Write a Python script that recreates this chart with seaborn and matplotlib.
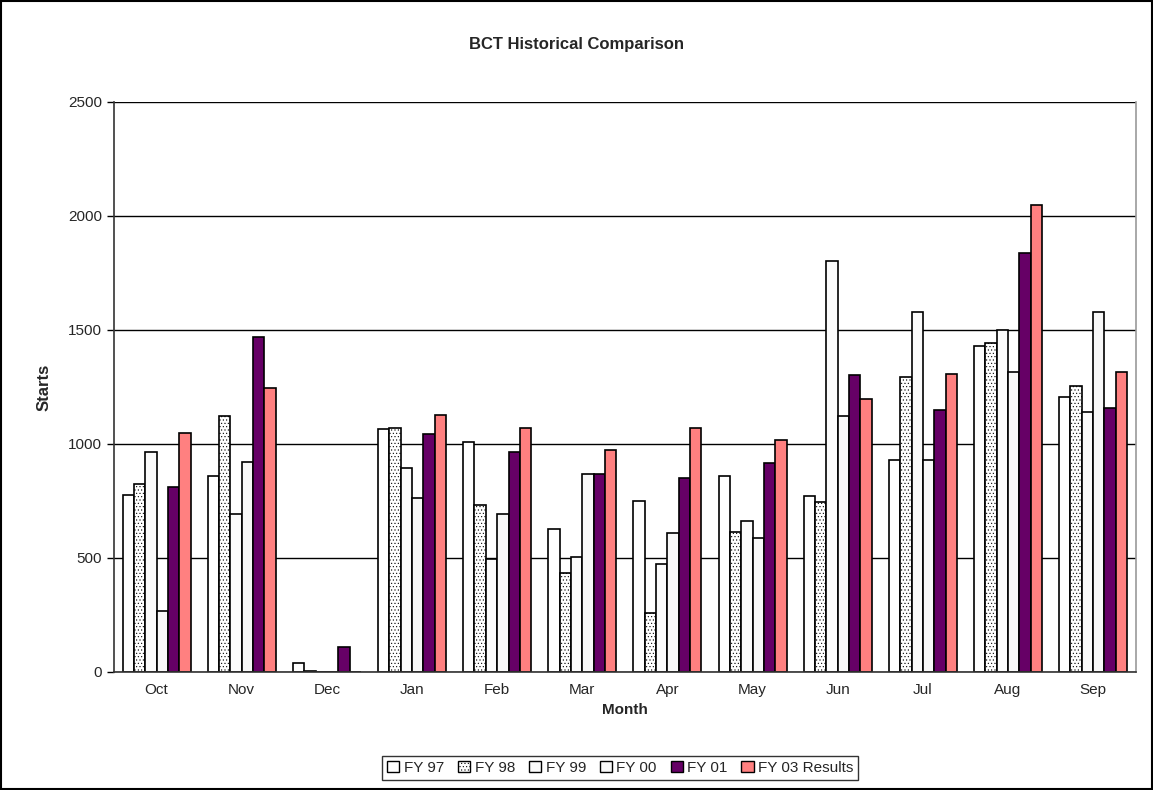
import matplotlib
matplotlib.use("Agg")
import matplotlib.pyplot as plt
import seaborn as sns
import pandas as pd
import numpy as np
from matplotlib.patches import Patch

months = ["Oct", "Nov", "Dec", "Jan", "Feb", "Mar", "Apr", "May", "Jun", "Jul", "Aug", "Sep"]
series = ["FY 97", "FY 98", "FY 99", "FY 00", "FY 01", "FY 03 Results"]
fy97 = [776, 860, 38, 1065, 1010, 625, 748, 858, 772, 931, 1431, 1206]
fy98 = [826, 1121, 4, 1070, 733, 435, 260, 615, 747, 1294, 1442, 1256]
fy99 = [966, 693, 0, 895, 495, 505, 475, 660, 1803, 1580, 1501, 1139]
fy00 = [269, 922, 0, 765, 695, 870, 610, 588, 1123, 931, 1316, 1580]
fy01 = [810, 1469, 111, 1045, 965, 870, 850, 917, 1304, 1148, 1836, 1157]
fy03 = [1050, 1244, 0, 1128, 1068, 975, 1070, 1017, 1197, 1308, 2047, 1316]

colors = ["white", "white", "#fbfbfb", "#f8f8f8", "#660066", "#FF8080"]
hatches = [None, ".....", None, None, None, None]

rows = []
for name, vals in zip(series, [fy97, fy98, fy99, fy00, fy01, fy03]):
    for m, v in zip(months, vals):
        rows.append({"Month": m, "Starts": v, "Series": name})
df = pd.DataFrame(rows)

sns.set_style("white")
plt.rcParams["font.family"] = ["Liberation Sans", "DejaVu Sans"]
plt.rcParams["hatch.color"] = "#cfcfcf"
plt.rcParams["hatch.linewidth"] = 0.4

fig = plt.figure(figsize=(11.53, 7.90), dpi=100)
ax = fig.add_axes([0.0989, 0.1494, 0.8861, 0.7215])

sns.barplot(data=df, x="Month", y="Starts", hue="Series", order=months,
            hue_order=series, palette=colors, edgecolor="black", linewidth=1.2,
            width=0.8, ax=ax, legend=False, saturation=1)

for cont, h in zip(ax.containers, hatches):
    for p in cont:
        if h:
            p.set_hatch(h)

ax.set_ylim(0, 2500)
ax.set_xlim(-0.5, 11.5)
ax.set_yticks(np.arange(0, 2501, 500))
ax.yaxis.grid(True, color="black", linewidth=1)
ax.set_axisbelow(True)
ax.set_xticks(np.arange(12))
ax.set_xticklabels(months)
ax.set_xticks(np.arange(-0.5, 12, 1), minor=True)
ax.tick_params(axis="x", which="major", length=0, labelsize=11, pad=8)
ax.tick_params(axis="x", which="minor", length=5, width=1, color="black", direction="out")
ax.tick_params(axis="y", length=5, width=1, color="black", direction="out", labelsize=11, left=True)

for s in ["left", "bottom"]:
    ax.spines[s].set_color("#333333")
    ax.spines[s].set_linewidth(1.2)
ax.spines["top"].set_visible(False)
ax.spines["right"].set_color("#999999")
ax.spines["right"].set_linewidth(1.2)

ax.set_xlabel("Month", fontsize=11, fontweight="bold", labelpad=4)
ax.set_ylabel("Starts", fontsize=12, fontweight="bold", labelpad=12)
fig.text(0.5, 0.944, "BCT Historical Comparison", ha="center", va="center",
         fontsize=12, fontweight="bold")

handles = [Patch(facecolor=c, edgecolor="black", hatch=h, linewidth=1)
           for c, h in zip(colors, hatches)]
leg = fig.legend(handles, series, loc="center", bbox_to_anchor=(0.538, 0.028), ncol=6,
                 frameon=True, fontsize=11, handlelength=0.8, handleheight=0.8,
                 handletextpad=0.3, columnspacing=0.9, borderpad=0.3, fancybox=False)
leg.get_frame().set_edgecolor("black")
leg.get_frame().set_linewidth(1)

fig.patches.append(plt.Rectangle((0.001, 0.001), 0.998, 0.998, transform=fig.transFigure,
                                 fill=False, edgecolor="black", linewidth=1.5))

fig.savefig("out.png", dpi=100)
